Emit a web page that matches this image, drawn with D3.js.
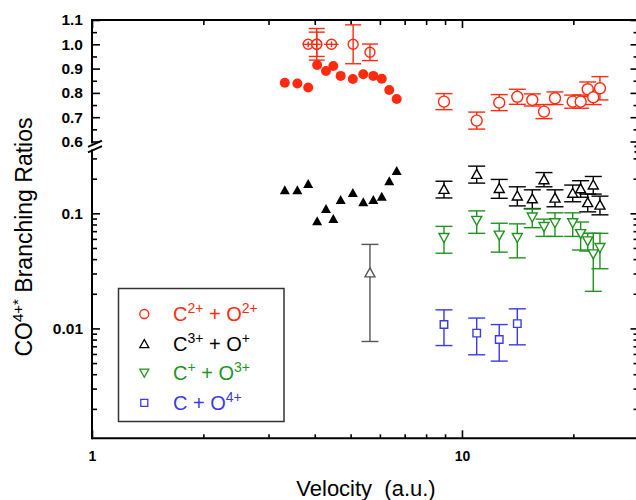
<!DOCTYPE html>
<html><head><meta charset="utf-8">
<script src="https://cdn.jsdelivr.net/npm/d3@7"></script>
<style>
body{margin:0;background:#fff;overflow:hidden}
svg{display:block;overflow:hidden;font-family:"Liberation Sans",Arial,Helvetica,sans-serif}
</style>
</head><body>
<svg id="chart" width="636" height="500"></svg>
<script>
// ---- data -------------------------------------------------------------
// low-velocity measurements (filled symbols, no error bars)
const vLow = [3.32, 3.59, 3.84, 4.06, 4.29, 4.49, 4.70, 5.07, 5.41, 5.76, 6.07, 6.36, 6.66];
const c2o2Low = [0.842, 0.839, 0.822, 0.915, 0.890, 0.911, 0.870, 0.857, 0.877, 0.870, 0.858, 0.812, 0.775];
const c3o1Low = [0.160, 0.160, 0.182, 0.086, 0.110, 0.090, 0.132, 0.152, 0.126, 0.132, 0.141, 0.192, 0.235];

// intermediate-velocity C2+ + O2+ (open circles, x and y error bars)
const vMid = [3.84, 4.05, 4.05, 4.44, 5.08, 5.64];
const c2o2Mid = [1.0, 1.0, 1.0, 1.0, 1.0, 0.967];
const c2o2MidErr = [0.012, 0.065, 0.05, 0.012, 0.08, 0.034];
const vMidErr = [0.13, 0.1, 0.0, 0.2, 0.0, 0.0];

// intermediate-velocity C3+ + O+ (single open triangle)
const vMidC3 = [5.64];
const c3o1Mid = [0.0307];
const c3o1MidErr = [0.023];

// high-velocity measurements (open symbols with error bars)
const vHigh = [8.94, 10.96, 12.61, 14.11, 15.49, 16.66, 17.84, 19.92, 20.93, 21.87, 22.64, 23.6];
const c2o2High = [0.764, 0.686, 0.760, 0.784, 0.771, 0.723, 0.778, 0.764, 0.764, 0.815, 0.782, 0.819];
const c2o2HighErr = [0.033, 0.035, 0.033, 0.031, 0.025, 0.029, 0.026, 0.027, 0.027, 0.03, 0.03, 0.048];
const c3o1High = [0.163, 0.22, 0.166, 0.143, 0.135, 0.198, 0.137, 0.151, 0.165, 0.125, 0.178, 0.119];
const c3o1HighErr = [0.027, 0.037, 0.031, 0.027, 0.025, 0.028, 0.023, 0.025, 0.027, 0.022, 0.031, 0.022];
const c1o3High = [0.061, 0.086, 0.064, 0.061, 0.092, 0.076, 0.082, 0.082, 0.066, 0.057, 0.044, 0.05];
const c1o3HighErr = [0.016, 0.019, 0.018, 0.02, 0.017, 0.013, 0.019, 0.019, 0.018, 0.01, 0.023, 0.017];

const vC0 = [8.94, 10.96, 12.61, 14.11];
const c0o4 = [0.0108, 0.0091, 0.0080, 0.011];
const c0o4Err = [0.0037, 0.0032, 0.0028, 0.0038];

// axis ticks
const xMajor = [1, 10];
const xLabels = ["1", "10"];
const xMinor = [2, 3, 4, 5, 6, 7, 8, 9, 20];
const yTopMajor = [0.6, 0.7, 0.8, 0.9, 1.0, 1.1];
const yTopLabels = ["0.6", "0.7", "0.8", "0.9", "1.0", "1.1"];
const yTopMinor = [0.65, 0.75, 0.85, 0.95, 1.05];
const yBotMajor = [0.01, 0.1];
const yBotLabels = ["0.01", "0.1"];
const yBotMinor = [0.002, 0.003, 0.004, 0.005, 0.006, 0.007, 0.008, 0.009,
                   0.02, 0.03, 0.04, 0.05, 0.06, 0.07, 0.08, 0.09, 0.2, 0.3];

const legendItems = [
  {sym: "circle", color: "#ff2a10", parts: [["C",0],["2+",1],[" + O",0],["2+",1]]},
  {sym: "up", color: "#000000", parts: [["C",0],["3+",1],[" + O",0],["+",1]]},
  {sym: "down", color: "#1f931f", parts: [["C",0],["+",1],[" + O",0],["3+",1]]},
  {sym: "square", color: "#3a3ae8", parts: [["C + O",0],["4+",1]]}
];

// ---- layout -----------------------------------------------------------
const RED = "#ff2a10", GREEN = "#1f931f", BLUE = "#3a3ae8", BLACK = "#000", GREY = "#555";
const plotL = 92, plotR = 638.5, plotT = 20, plotB = 438.3;

const svg = d3.select("#chart");
const x = d3.scaleLog().domain([1, 30]).range([plotL, plotR]);
const yTop = d3.scaleLinear().domain([0.6, 1.1]).range([141.5, plotT]);
const yBot = d3.scaleLog().domain([0.00111, 0.35]).range([plotB, 150.7]);

// ---- axes -------------------------------------------------------------
function styleAxis(g, size, weight) {
  g.select(".domain").remove();
  g.selectAll("line").attr("stroke", "#000").attr("stroke-width", 1.6);
  g.selectAll("text").attr("font-size", size).attr("font-weight", weight)
    .attr("fill", "#000").attr("font-family", "Liberation Sans, Arial, sans-serif");
}

// bottom
svg.append("g").attr("transform", `translate(0,${plotB})`)
  .call(d3.axisBottom(x).tickValues(xMajor).tickSize(-8).tickPadding(13)
        .tickFormat((d, i) => xLabels[i]))
  .call(g => styleAxis(g, 14, "bold"));
svg.append("g").attr("transform", `translate(0,${plotB})`)
  .call(d3.axisBottom(x).tickValues(xMinor).tickSize(-4).tickFormat(""))
  .call(g => styleAxis(g, 14, "bold"));
// top
svg.append("g").attr("transform", `translate(0,${plotT})`)
  .call(d3.axisTop(x).tickValues(xMajor).tickSize(-8).tickFormat(""))
  .call(g => styleAxis(g, 14, "bold"));
svg.append("g").attr("transform", `translate(0,${plotT})`)
  .call(d3.axisTop(x).tickValues(xMinor).tickSize(-5).tickFormat(""))
  .call(g => styleAxis(g, 14, "bold"));

// left, upper linear part
svg.append("g").attr("transform", `translate(${plotL},0)`)
  .call(d3.axisLeft(yTop).tickValues(yTopMajor).tickSize(-8).tickPadding(9)
        .tickFormat((d, i) => yTopLabels[i]))
  .call(g => styleAxis(g, 15.5, "bold"));
svg.append("g").attr("transform", `translate(${plotL},0)`)
  .call(d3.axisLeft(yTop).tickValues(yTopMinor).tickSize(-5).tickFormat(""))
  .call(g => styleAxis(g, 15.5, "bold"));
// left, lower log part
svg.append("g").attr("transform", `translate(${plotL},0)`)
  .call(d3.axisLeft(yBot).tickValues(yBotMajor).tickSize(-8).tickPadding(9)
        .tickFormat((d, i) => yBotLabels[i]))
  .call(g => styleAxis(g, 15.5, "bold"));
svg.append("g").attr("transform", `translate(${plotL},0)`)
  .call(d3.axisLeft(yBot).tickValues(yBotMinor).tickSize(-5).tickFormat(""))
  .call(g => styleAxis(g, 15.5, "bold"));
// right mirror ticks
[[yTop, yTopMajor, -8], [yTop, yTopMinor, -5], [yBot, yBotMajor, -8], [yBot, yBotMinor, -5]]
  .forEach(([sc, vals, len]) => {
    svg.append("g").attr("transform", `translate(${plotR},0)`)
      .call(d3.axisRight(sc).tickValues(vals).tickSize(len).tickFormat(""))
      .call(g => styleAxis(g, 15, "bold"));
  });

// frame with axis breaks
const frame = svg.append("g").attr("stroke", "#000").attr("stroke-width", 2).attr("fill", "none");
frame.append("line").attr("x1", plotL).attr("x2", plotR).attr("y1", plotT).attr("y2", plotT);
frame.append("line").attr("x1", plotL).attr("x2", plotR).attr("y1", plotB).attr("y2", plotB);
[plotL, plotR].forEach(xx => {
  frame.append("line").attr("x1", xx).attr("x2", xx).attr("y1", plotT - 1).attr("y2", 143.5);
  frame.append("line").attr("x1", xx).attr("x2", xx).attr("y1", 149.5).attr("y2", plotB + 1);
  frame.append("line").attr("x1", xx - 4).attr("x2", xx + 10).attr("y1", 146.8).attr("y2", 140.6);
  frame.append("line").attr("x1", xx - 4).attr("x2", xx + 10).attr("y1", 152.4).attr("y2", 146.2);
});

// ---- symbols ----------------------------------------------------------
function symPath(type, w) {
  const h = w * 0.9, s = w / 2;
  if (type === "up") return `M0,${-h/2}L${s},${h/2}L${-s},${h/2}Z`;
  if (type === "down") return `M0,${h/2}L${s},${-h/2}L${-s},${-h/2}Z`;
  if (type === "square") return `M${-s},${-s}H${s}V${s}H${-s}Z`;
  return `M${s},0A${s},${s} 0 1,1 ${-s},0A${s},${s} 0 1,1 ${s},0Z`;
}

// vertical error bars; caps only when the bar reaches past the symbol
function errorBars(g, xs, ys, es, ysc, color, cap, minLen) {
  const d = xs.map((v, i) => ({x: v, y: ys[i], e: es[i]})).filter(p => p.e > 0);
  const bars = g.append("g").attr("stroke", color).attr("stroke-width", 1.4).attr("fill", "none");
  d.forEach(p => {
    const cx = x(p.x), y1 = ysc(p.y + p.e), y2 = ysc(p.y - p.e);
    bars.append("line").attr("x1", cx).attr("x2", cx).attr("y1", y1).attr("y2", y2);
    if (Math.abs(y2 - y1) / 2 > (minLen || 0)) {
      bars.append("line").attr("x1", cx - cap).attr("x2", cx + cap).attr("y1", y1).attr("y2", y1);
      bars.append("line").attr("x1", cx - cap).attr("x2", cx + cap).attr("y1", y2).attr("y2", y2);
    }
  });
}

function markers(g, xs, ys, ysc, type, w, color, filled) {
  g.append("g").selectAll("path").data(xs.map((v, i) => [v, ys[i]])).join("path")
    .attr("transform", d => `translate(${x(d[0])},${ysc(d[1])})`)
    .attr("d", symPath(type, w))
    .attr("fill", filled ? color : "#fff")
    .attr("stroke", color)
    .attr("stroke-width", filled ? 0 : 1.4);
}

const plot = svg.append("g");

// C2+ + O2+
markers(plot, vLow, c2o2Low, yTop, "circle", 10, RED, true);
markers(plot, vMid, c2o2Mid, yTop, "circle", 10, RED, false);
errorBars(plot, vMid, c2o2Mid, c2o2MidErr, yTop, RED, 8, 6);
const hb = plot.append("g").attr("stroke", RED).attr("stroke-width", 1.4);
vMid.forEach((v, i) => {
  if (vMidErr[i] > 0) {
    const yy = yTop(c2o2Mid[i]);
    hb.append("line").attr("x1", x(v - vMidErr[i])).attr("x2", x(v + vMidErr[i])).attr("y1", yy).attr("y2", yy);
  }
});
errorBars(plot, vHigh, c2o2High, c2o2HighErr, yTop, RED, 8.5);
markers(plot, vHigh, c2o2High, yTop, "circle", 11, RED, false);

// C3+ + O+
markers(plot, vLow, c3o1Low, yBot, "up", 10, BLACK, true);
errorBars(plot, vMidC3, c3o1Mid, c3o1MidErr, yBot, GREY, 8.5);
markers(plot, vMidC3, c3o1Mid, yBot, "up", 10, GREY, false);
errorBars(plot, vHigh, c3o1High, c3o1HighErr, yBot, BLACK, 8.5);
markers(plot, vHigh, c3o1High, yBot, "up", 10, BLACK, false);

// C+ + O3+
errorBars(plot, vHigh, c1o3High, c1o3HighErr, yBot, GREEN, 8.5);
markers(plot, vHigh, c1o3High, yBot, "down", 10, GREEN, false);

// C + O4+
errorBars(plot, vC0, c0o4, c0o4Err, yBot, BLUE, 8.5);
markers(plot, vC0, c0o4, yBot, "square", 7.5, BLUE, false);

// ---- legend -----------------------------------------------------------
const lg = svg.append("g");
lg.append("rect").attr("x", 118.5).attr("y", 288.5).attr("width", 165.5).attr("height", 133)
  .attr("fill", "#fff").attr("stroke", "#333").attr("stroke-width", 1.5);
legendItems.forEach((it, i) => {
  const cy = 314 + i * 29.6;
  lg.append("path").attr("transform", `translate(144.3,${cy})`)
    .attr("d", symPath(it.sym, it.sym === "square" ? 7 : 9))
    .attr("fill", "none").attr("stroke", it.color).attr("stroke-width", 1.3);
  const t = lg.append("text").attr("x", 173).attr("y", cy + 7)
    .attr("font-size", 20).attr("fill", it.color);
  let raised = false;
  it.parts.forEach(([s, sup]) => {
    const ts = t.append("tspan").text(s);
    if (sup && !raised) { ts.attr("dy", -8).attr("font-size", 14); raised = true; }
    else if (sup) { ts.attr("font-size", 14); }
    else if (!sup && raised) { ts.attr("dy", 8); raised = false; }
  });
});

// ---- titles -----------------------------------------------------------
const yt = svg.append("text").attr("transform", "translate(32,237) rotate(-90)")
  .attr("text-anchor", "middle").attr("font-size", 23).attr("fill", "#000");
yt.append("tspan").text("CO");
yt.append("tspan").text("4+*").attr("font-size", 15).attr("dy", -9);
yt.append("tspan").text(" Branching Ratios").attr("dy", 9);

svg.append("text").attr("x", 366).attr("y", 496).attr("text-anchor", "middle")
  .attr("font-size", 22).attr("fill", "#000").attr("xml:space", "preserve")
  .style("white-space", "pre").text("Velocity  (a.u.)");
</script>
</body></html>
